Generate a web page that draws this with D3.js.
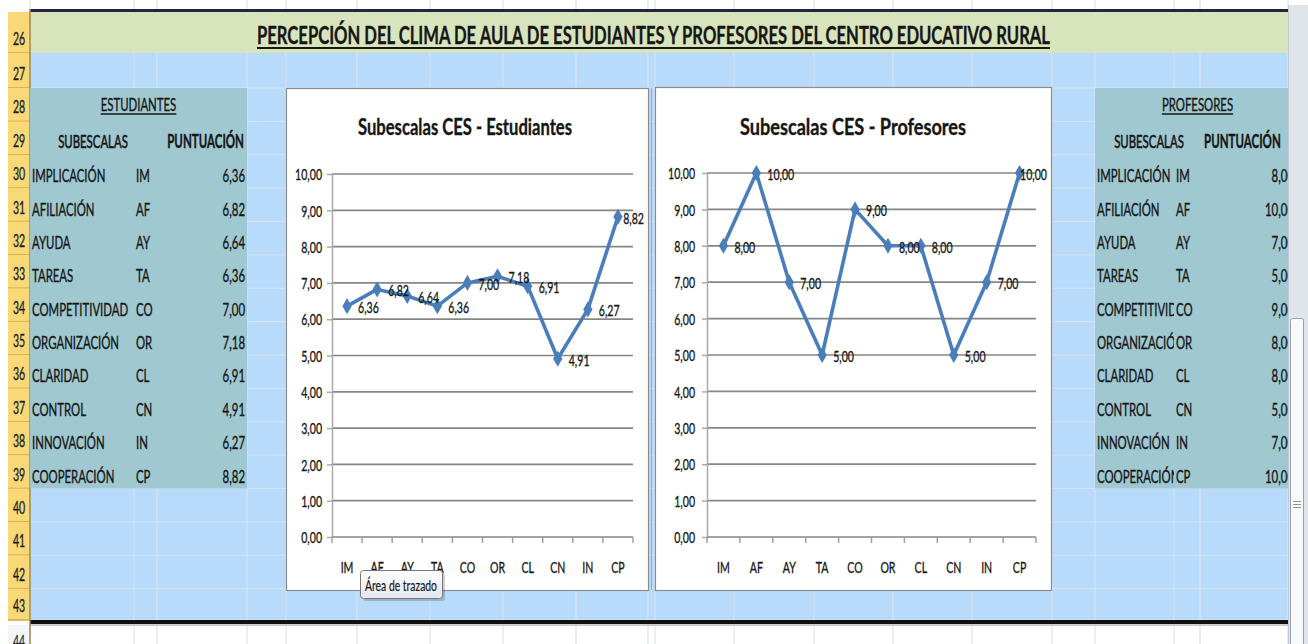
<!DOCTYPE html>
<meta charset='utf-8'>
<style>
    body { margin: 0; background: #fff; }
    svg text { font-family: Lato, "Open Sans", sans-serif; fill: #161616; stroke: #161616; stroke-width: 0.35px; }
</style>

<svg width="1308" height="644"></svg>
<script src="https://d3js.org/d3.v7.min.js"></script>

<script>

// ---- data ----
var codes = ['IM', 'AF', 'AY', 'TA', 'CO', 'OR', 'CL', 'CN', 'IN', 'CP'];
var subescalas = ['IMPLICACIÓN', 'AFILIACIÓN', 'AYUDA', 'TAREAS', 'COMPETITIVIDAD',
                  'ORGANIZACIÓN', 'CLARIDAD', 'CONTROL', 'INNOVACIÓN', 'COOPERACIÓN'];
var estudiantes = [6.36, 6.82, 6.64, 6.36, 7.00, 7.18, 6.91, 4.91, 6.27, 8.82];
var profesores = [8, 10, 7, 5, 9, 8, 8, 5, 7, 10];
var yTicks = [0, 1, 2, 3, 4, 5, 6, 7, 8, 9, 10];
var rowNumbers = d3.range(26, 45);
var pageTitle = 'PERCEPCIÓN DEL CLIMA DE AULA DE ESTUDIANTES Y PROFESORES DEL CENTRO EDUCATIVO RURAL';

var svg = d3.select('svg');

var es = d3.formatLocale({decimal: ',', thousands: '.', grouping: [3], currency: ['', ' €']});
var fmt = es.format('.2f');

var K = 0.67;   // the sheet font is very narrow
function squeeze(sel, k) {
    sel.each(function() {
        var w = this.getComputedTextLength();
        d3.select(this).attr('textLength', w * (k || K)).attr('lengthAdjust', 'spacingAndGlyphs');
    });
    return sel;
}

// sheet geometry
var cols = [30, 134, 157, 247, 286, 357, 430, 503, 576, 648, 655, 734, 814, 893, 972, 1052, 1095, 1174, 1200, 1288];
var rowH = 33.375;
function rowTop(r) {
    if (r === 26) return 12;
    if (r === 27) return 53;
    if (r === 44) return 625;
    return 88 + (r - 28) * rowH;
}
function rowBot(r) { return r === 26 ? 53 : r === 27 ? 88 : r === 43 ? 620 : rowTop(r) + rowH; }

var sheet = svg.append('g');

// top strip + white row 44
sheet.append('rect').attr('width', 1308).attr('height', 644).attr('fill', '#fff');
cols.forEach(function(c) {
    sheet.append('line').attr('x1', c).attr('x2', c).attr('y1', 0).attr('y2', 9).attr('stroke', '#d5dbe4');
    sheet.append('line').attr('x1', c).attr('x2', c).attr('y1', 625).attr('y2', 644).attr('stroke', '#d5dbe4');
});

// blue body rows 27-43
sheet.append('rect').attr('x', 30).attr('y', 53).attr('width', 1258).attr('height', 567).attr('fill', '#b8dbfb');
d3.range(27, 44).forEach(function(r) {
    sheet.append('line').attr('x1', 30).attr('x2', 1288).attr('y1', rowBot(r)).attr('y2', rowBot(r))
        .attr('stroke', '#d7e4f0').attr('stroke-width', 1);
});
cols.forEach(function(c) {
    sheet.append('line').attr('x1', c).attr('x2', c).attr('y1', 53).attr('y2', 620)
        .attr('stroke', '#d7e4f0').attr('stroke-width', 1);
});

// title row
sheet.append('rect').attr('x', 30).attr('y', 12).attr('width', 1258).attr('height', 41).attr('fill', '#d8e4bc');
sheet.append('rect').attr('x', 30).attr('y', 9).attr('width', 1258).attr('height', 3).attr('fill', '#26223f');
sheet.append('rect').attr('x', 30).attr('y', 620).attr('width', 1258).attr('height', 4).attr('fill', '#111');
sheet.append('line').attr('x1', 30).attr('x2', 1288).attr('y1', 625).attr('y2', 625).attr('stroke', '#9a9a9a');

sheet.append('text')
    .attr('x', 653.5).attr('y', 44)
    .attr('text-anchor', 'middle')
    .attr('font-size', 24).attr('font-weight', 'bold')
    .attr('textLength', 793).attr('lengthAdjust', 'spacingAndGlyphs')
    .text(pageTitle);
sheet.append('line').attr('x1', 257).attr('x2', 1050).attr('y1', 48).attr('y2', 48)
    .attr('stroke', '#161616').attr('stroke-width', 2);

// row header column
var hdr = sheet.append('g');
rowNumbers.forEach(function(r) {
    var t = rowTop(r), b = r === 44 ? 660 : rowBot(r);
    hdr.append('rect').attr('x', 8).attr('y', t).attr('width', 22).attr('height', b - t)
        .attr('fill', r === 44 ? '#f3f5f8' : '#f9d878');
    hdr.append('line').attr('x1', 8).attr('x2', 30).attr('y1', b).attr('y2', b)
        .attr('stroke', r === 44 ? '#c8ced8' : '#d6a640').attr('stroke-width', 1.5);
    squeeze(hdr.append('text')
        .attr('x', 19).attr('y', r === 44 ? 648 : b - 8)
        .attr('text-anchor', 'middle').attr('font-size', 17)
        .attr('fill', r === 44 ? '#666' : '#333').style('stroke', r === 44 ? '#666' : '#333')
        .text(r), 0.62);
});
hdr.append('line').attr('x1', 30).attr('x2', 30).attr('y1', 9).attr('y2', 644).attr('stroke', '#9c8a4a').attr('stroke-width', 1.5);

// ---- the two tables ----
function drawTable(cfg, values) {
    var g = svg.append('g');
    g.append('rect').attr('x', cfg.x0).attr('y', rowTop(28)).attr('width', cfg.x1 - cfg.x0)
        .attr('height', rowBot(39) - rowTop(28)).attr('fill', '#9fc8d0');

    var clipId = 'clip' + cfg.x0;
    g.append('clipPath').attr('id', clipId).append('rect')
        .attr('x', cfg.x0).attr('y', 80).attr('width', cfg.x1 - cfg.x0).attr('height', 420);
    var inner = g.append('g').attr('clip-path', 'url(#' + clipId + ')');

    var head = squeeze(inner.append('text').attr('x', cfg.headX).attr('y', rowTop(28) + 23)
        .attr('text-anchor', 'middle').attr('font-size', 17).text(cfg.head));
    var hw = +head.attr('textLength');
    inner.append('line').attr('x1', cfg.headX - hw / 2).attr('x2', cfg.headX + hw / 2)
        .attr('y1', rowTop(28) + 26).attr('y2', rowTop(28) + 26).attr('stroke', '#161616').attr('stroke-width', 1.6);

    squeeze(inner.append('text').attr('x', cfg.subX).attr('y', rowBot(29) - 7)
        .attr('text-anchor', 'middle').attr('font-size', 17).style('stroke-width', '0.6px').text('SUBESCALAS'));
    squeeze(inner.append('text').attr('x', cfg.puntX).attr('y', rowBot(29) - 7)
        .attr('text-anchor', cfg.puntAnchor).attr('font-size', 18).attr('font-weight', 'bold').text('PUNTUACIÓN'), 0.64);

    var labClip = 'lab' + cfg.x0;
    g.append('clipPath').attr('id', labClip).append('rect')
        .attr('x', cfg.x0).attr('y', 80).attr('width', cfg.codeCol - cfg.x0).attr('height', 420);
    var labs = inner.append('g').attr('clip-path', 'url(#' + labClip + ')');

    subescalas.forEach(function(s, i) {
        var base = rowBot(30 + i) - 6;
        squeeze(labs.append('text').attr('x', cfg.x0 + 2).attr('y', base).attr('font-size', 17).text(s));
        squeeze(inner.append('text').attr('x', cfg.codeCol + 2).attr('y', base).attr('font-size', 17).text(codes[i]));
        squeeze(inner.append('text').attr('x', cfg.valX).attr('y', base)
            .attr('text-anchor', 'end').attr('font-size', 17).text(fmt(values[i])));
    });
}

drawTable({x0: 30, x1: 247, codeCol: 134, valX: 245, head: 'ESTUDIANTES', headX: 138.5,
           subX: 93, puntX: 244, puntAnchor: 'end'}, estudiantes);
drawTable({x0: 1095, x1: 1288, codeCol: 1174, valX: 1294, head: 'PROFESORES', headX: 1197.5,
           subX: 1149, puntX: 1204, puntAnchor: 'start'}, profesores);

// ---- the two charts ----
function drawChart(cfg, values) {
    var g = svg.append('g');
    g.append('rect').attr('x', cfg.box[0] + 0.5).attr('y', cfg.box[1] + 0.5)
        .attr('width', cfg.box[2] - cfg.box[0]).attr('height', cfg.box[3] - cfg.box[1])
        .attr('fill', '#fff').attr('stroke', '#8c8c8c').attr('stroke-width', 1.2);

    g.append('text').attr('x', cfg.titleX).attr('y', 135)
        .attr('text-anchor', 'middle').attr('font-size', 22).attr('font-weight', 'bold')
        .attr('textLength', cfg.titleW).attr('lengthAdjust', 'spacingAndGlyphs')
        .text(cfg.title);

    var x = d3.scaleBand().domain(codes).range([cfg.left, cfg.right]);
    var y = d3.scaleLinear().domain([0, 10]).range([537, cfg.top]);

    // gridlines
    g.append('g').selectAll('line')
        .data(yTicks.filter(function(v) { return v > 0; }))
        .enter().append('line')
        .attr('x1', cfg.left).attr('x2', cfg.right)
        .attr('y1', function(d) { return y(d); }).attr('y2', function(d) { return y(d); })
        .attr('stroke', '#868686').attr('stroke-width', 1.7);

    // y axis
    var ya = g.append('g').attr('transform', 'translate(' + cfg.left + ',0)')
        .call(d3.axisLeft(y).tickValues(yTicks).tickFormat(fmt).tickSize(5).tickSizeOuter(0).tickPadding(cfg.ypad));
    ya.select('.domain').attr('stroke', '#a9a9a9').attr('stroke-width', 1.5);
    ya.selectAll('.tick line').attr('stroke', '#a9a9a9').attr('stroke-width', 1.5);
    ya.attr('font-family', null).attr('font-size', null);
    squeeze(ya.selectAll('.tick text').attr('font-size', 16).attr('fill', '#161616').attr('dy', '0.36em'), 0.66);

    // x axis: line, ticks on category boundaries, labels at centres
    g.append('line').attr('x1', cfg.left).attr('x2', cfg.right).attr('y1', y(0)).attr('y2', y(0))
        .attr('stroke', '#868686').attr('stroke-width', 1.7);
    g.append('g').selectAll('line')
        .data(d3.range(codes.length + 1))
        .enter().append('line')
        .attr('x1', function(i) { return cfg.left + i * x.step(); })
        .attr('x2', function(i) { return cfg.left + i * x.step(); })
        .attr('y1', y(0)).attr('y2', y(0) + 6)
        .attr('stroke', '#a0a0a0').attr('stroke-width', 1.5);
    squeeze(g.append('g').selectAll('text')
        .data(codes)
        .enter().append('text')
        .attr('x', function(d) { return x(d) + x.bandwidth() / 2; })
        .attr('y', 573)
        .attr('text-anchor', 'middle').attr('font-size', 16)
        .text(function(d) { return d; }), 0.66);

    // series
    var pts = values.map(function(v, i) { return {c: codes[i], v: v}; });
    var line = d3.line()
        .x(function(d) { return x(d.c) + x.bandwidth() / 2; })
        .y(function(d) { return y(d.v); });
    g.append('path').datum(pts).attr('d', line)
        .attr('fill', 'none').attr('stroke', '#4a7ebb').attr('stroke-width', 3.6)
        .attr('stroke-linejoin', 'round');
    g.append('g').selectAll('path')
        .data(pts)
        .enter().append('path')
        .attr('d', d3.symbol().type(d3.symbolDiamond).size(75))
        .attr('transform', function(d) { return 'translate(' + (x(d.c) + x.bandwidth() / 2) + ',' + y(d.v) + ')'; })
        .attr('fill', '#4a7ebb');

    // data labels to the right, kept inside the chart box
    g.append('g').selectAll('text')
        .data(pts)
        .enter().append('text')
        .attr('font-size', 16)
        .attr('y', function(d) { return y(d.v) + 7; })
        .text(function(d) { return fmt(d.v); })
        .each(function(d) {
            var w = this.getComputedTextLength() * 0.66;
            var px = x(d.c) + x.bandwidth() / 2 + 11;
            d3.select(this).attr('x', Math.min(px, cfg.box[2] - 4 - w))
                .attr('textLength', w).attr('lengthAdjust', 'spacingAndGlyphs');
        });
    return g;
}

drawChart({box: [286, 88, 648, 590], left: 332, right: 633, top: 174, ypad: 5,
           title: 'Subescalas CES - Estudiantes', titleX: 465, titleW: 214}, estudiantes);
svg.append('line').attr('x1', 651.5).attr('x2', 651.5).attr('y1', 88).attr('y2', 590).attr('stroke', '#a8a8a8');
drawChart({box: [655, 87, 1051, 590], left: 707, right: 1036, top: 173, ypad: 7,
           title: 'Subescalas CES - Profesores', titleX: 853, titleW: 226}, profesores);

// tooltip left over from the screenshot
var tip = svg.append('g');
var grad = svg.append('defs').append('linearGradient').attr('id', 'tipg').attr('x1', 0).attr('x2', 0).attr('y1', 0).attr('y2', 1);
grad.append('stop').attr('offset', 0).attr('stop-color', '#ffffff');
grad.append('stop').attr('offset', 1).attr('stop-color', '#e3e7ee');
tip.append('rect').attr('x', 363).attr('y', 573).attr('width', 82).attr('height', 28).attr('rx', 3).attr('fill', 'rgba(0,0,0,0.18)');
tip.append('rect').attr('x', 360.5).attr('y', 570.5).attr('width', 82).attr('height', 28).attr('rx', 3)
    .attr('fill', 'url(#tipg)').attr('stroke', '#777');
tip.append('text').attr('x', 365).attr('y', 591).attr('font-size', 15)
    .attr('textLength', 72).attr('lengthAdjust', 'spacingAndGlyphs').attr('fill', '#333').style('stroke', '#333').style('stroke-width', '0.2px')
    .text('Área de trazado');

// scrollbar
var sb = svg.append('g');
sb.append('rect').attr('x', 1288).attr('y', 5).attr('width', 20).attr('height', 639).attr('fill', '#e0e5ec');
sb.append('line').attr('x1', 1288.5).attr('x2', 1288.5).attr('y1', 5).attr('y2', 644).attr('stroke', '#c3cad3');
sb.append('rect').attr('x', 1290.5).attr('y', 318.5).attr('width', 13).attr('height', 340).attr('rx', 2)
    .attr('fill', '#f7f9fb').attr('stroke', '#98a1ad');
[501, 504, 507].forEach(function(yy) {
    sb.append('line').attr('x1', 1293).attr('x2', 1301).attr('y1', yy + 0.5).attr('y2', yy + 0.5).attr('stroke', '#8a939e');
});

</script>
